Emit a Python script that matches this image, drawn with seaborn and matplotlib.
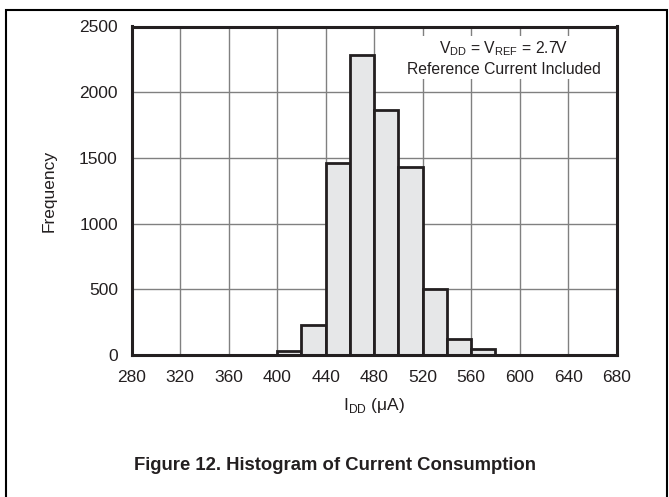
import matplotlib
matplotlib.use("Agg")
import matplotlib.pyplot as plt
import matplotlib.patches as mpatches
import numpy as np
import seaborn as sns

# Supply current histogram: bin edges (µA) and counts per bin
bin_edges = [400, 420, 440, 460, 480, 500, 520, 540, 560, 580]
counts = [30, 230, 1460, 2280, 1865, 1430, 500, 120, 45]

x_ticks = [280, 320, 360, 400, 440, 480, 520, 560, 600, 640, 680]
y_ticks = [0, 500, 1000, 1500, 2000, 2500]

sns.set_theme(style="white")
plt.rcParams["font.family"] = ["Liberation Sans", "DejaVu Sans"]

W, H = 669, 497
fig = plt.figure(figsize=(W / 100, H / 100), dpi=100)
ax = fig.add_axes([131.7 / W, 1 - 355 / H, (616.7 - 131.7) / W, (355 - 26.5) / H])

centers = [(a + b) / 2 for a, b in zip(bin_edges[:-1], bin_edges[1:])]
sns.histplot(x=centers, weights=counts, bins=bin_edges, ax=ax,
             color="#e6e7e8", alpha=1.0, edgecolor="#231f20", linewidth=2.0,
             zorder=3)

ax.set_xlim(280, 680)
ax.set_ylim(0, 2500)
ax.set_xticks(x_ticks)
ax.set_yticks(y_ticks)
ax.grid(True, color="#808080", linewidth=1.0, zorder=0)
ax.set_axisbelow(True)
ax.tick_params(axis="both", length=0, labelsize=12.5, colors="#231f20")
ax.tick_params(axis="x", pad=11)
ax.tick_params(axis="y", pad=10)
for s in ax.spines.values():
    s.set_linewidth(2.2)
    s.set_color("#231f20")
    s.set_zorder(5)

ax.set_ylabel("Frequency", fontsize=12.5, color="#231f20", labelpad=16)
ax.set_xlabel(r"I$_{\mathregular{DD}}$ ($\mathregular{\mu}$A)", fontsize=12.5,
              color="#231f20", labelpad=8)

ax.text(0.767, 0.96,
        "V$_{\\mathregular{DD}}$ = V$_{\\mathregular{REF}}$ = 2.7V\nReference Current Included",
        transform=ax.transAxes, ha="center", va="top", fontsize=11.3,
        color="#231f20", linespacing=1.3, zorder=6,
        bbox=dict(boxstyle="square,pad=0.15", facecolor="white", edgecolor="none"))

fig.text(0.5, 1 - 466 / H, "Figure 12. Histogram of Current Consumption",
         ha="center", va="center", fontsize=13.3, fontweight="bold", color="#231f20")

# outer frame of the figure panel
fig.add_artist(mpatches.Rectangle((6 / W, -0.01), (667 - 6) / W, 1 - 10 / H + 0.01,
                                  transform=fig.transFigure, fill=False,
                                  edgecolor="black", linewidth=1.5))

fig.savefig("out.png", dpi=100)
